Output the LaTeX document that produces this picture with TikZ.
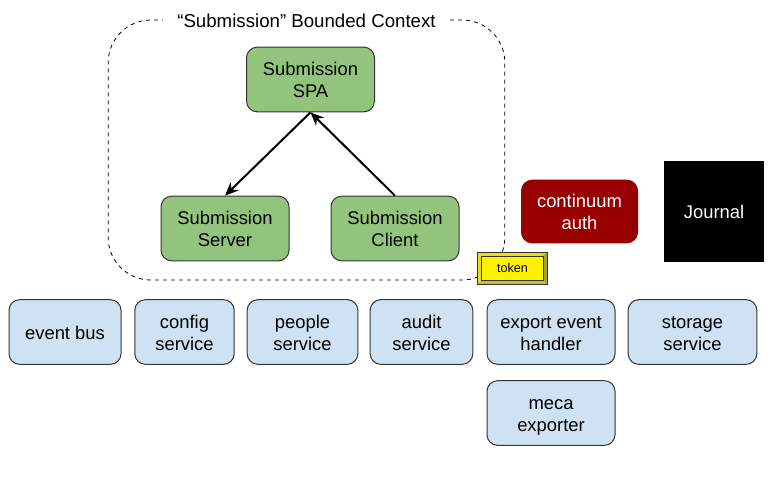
\documentclass[tikz,border=0pt]{standalone}
\usepackage{fontspec}
\setmainfont{Liberation Sans}
\usetikzlibrary{arrows,arrows.meta,positioning,calc}
\definecolor{subgreen}{HTML}{93C47D}
\definecolor{svcblue}{HTML}{CFE2F3}
\definecolor{authred}{HTML}{980000}
\begin{document}
\begin{tikzpicture}[
x=0.75pt,y=-0.75pt,
font=\fontsize{13.8}{16.5}\selectfont,
box/.style={draw=black!80,line width=0.75pt,rounded corners=8pt,align=center,inner sep=0pt,minimum height=48.5pt,text height=27.5pt,text depth=0pt},
submission/.style={box,fill=subgreen,minimum width=96pt},
service/.style={box,fill=svcblue},
link/.style={-{Stealth[length=10pt,width=8.5pt]},line width=1.5pt}
]
    \useasboundingbox (0,0) rectangle (780,483);

    % Bounded context
    \node (context) [draw,dashed,line width=0.6pt,rounded corners=32pt,minimum width=297.5pt,minimum height=195pt] at (306.5,150) {};
    \node (title) [fill=white,inner sep=0pt,minimum width=215pt,minimum height=14pt,font=\fontsize{14}{16.5}\selectfont] at (306.5,20.5) {“Submission” Bounded Context};

    % Submission boxes
    \node (spa) [submission] at (310.5,79.5) {Submission\\SPA};
    \node (server) [submission] at (225,228.5) {Submission\\Server};
    \node (client) [submission] at (395,228.5) {Submission\\Client};

    \draw[link] (spa.south) -- (server.north);
    \draw[link] (client.north) -- (spa.south);

    % Auth and journal
    \node (auth) [box,fill=authred,draw=authred,text=white,minimum width=87pt,minimum height=47pt] at (579.5,211.5) {continuum\\auth};
    \node (journal) [fill=black,text=white,inner sep=0pt,minimum width=75pt,minimum height=75.5pt,text height=11pt] at (714,211.5) {Journal};

    % Token
    \node (token) [draw=black!80,line width=0.6pt,fill=yellow,inner sep=0pt,minimum width=51.5pt,minimum height=23.5pt] at (512.5,268) {};
    \fill[yellow!90!black] (token.north west) -- (token.north east) -- ++(-4,4) -- ($(token.north west)+(4,4)$) -- cycle;
    \fill[yellow!90!black] (token.north west) -- (token.south west) -- ++(4,-4) -- ($(token.north west)+(4,4)$) -- cycle;
    \fill[yellow!60!black] (token.north east) -- (token.south east) -- ++(-4,-4) -- ($(token.north east)+(-4,4)$) -- cycle;
    \fill[yellow!75!black] (token.south west) -- (token.south east) -- ++(-4,-4) -- ($(token.south west)+(4,-4)$) -- cycle;
    \draw[black!80,line width=0.6pt] (token.north west) rectangle (token.south east);
    \draw[black!80,line width=0.6pt] ($(token.north west)+(4,4)$) rectangle ($(token.south east)+(-4,-4)$);
    \node (tokentext) [font=\fontsize{9.5}{11}\selectfont,inner sep=0pt] at (token.center) {token};

    % Services
    \node (bus) [service,minimum width=84pt,text height=11.5pt] at (65,332) {event bus};
    \node (config) [service,minimum width=74.5pt] at (184.5,332) {config\\service};
    \node (people) [service,minimum width=83pt] at (302.5,332) {people\\service};
    \node (audit) [service,minimum width=77pt] at (421.5,332) {audit\\service};
    \node (export) [service,minimum width=96pt] at (551,332) {export event\\handler};
    \node (storage) [service,minimum width=96.5pt] at (692.5,332) {storage\\service};
    \node (meca) [service,minimum width=96pt] at (551,413) {meca\\exporter};
\end{tikzpicture}
\end{document}
